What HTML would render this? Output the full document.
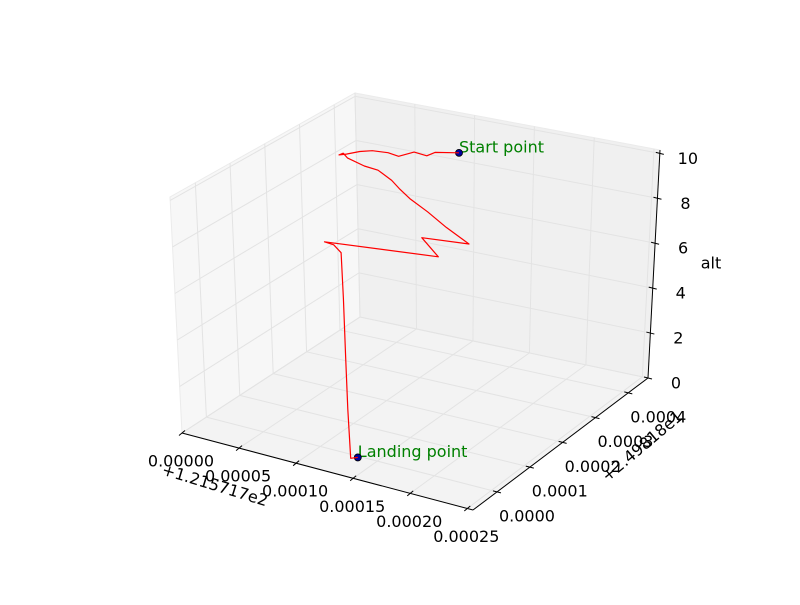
<!DOCTYPE html>
<html><head><meta charset="utf-8"><style>
body{margin:0;background:#fff}
svg text{font-family:"DejaVu Sans","Liberation Sans",sans-serif;font-size:16px}
</style></head><body>
<svg id="chart" width="800" height="600" viewBox="0 0 800 600" xmlns="http://www.w3.org/2000/svg">
<rect width="800" height="600" fill="#fff"/>
<g id="panes"></g>
<g id="grid"></g>
<g id="axes"></g>
<g id="series"></g>
</svg>
<script>
// flight data: longitude offset (micro-degrees from 121.5717), latitude offset (micro-degrees from 24.9818), altitude
const lonMicro = [127.4,111.9,110.4,98.4,93.3,82.7,70.8,63.8,58.2,54.6,55.3,60.6,72.4,80.6,90.2,96.1,103.9,117.1,128.6,143.8,107.1,132.6,44.6,51.2,59.3,74.3,95.8,111.8,130.4,134.1];
const latMicro = [320.7,304.9,286.3,291.0,263.9,270.0,265.8,253.7,234.2,225.6,235.3,229.0,236.9,248.0,254.2,255.2,259.1,265.6,280.6,295.0,282.8,243.6,212.1,216.4,210.0,163.4,94.2,43.8,-12.8,-4.2];
const altValues = [10,10,10,10,10,10,10,10,10,10,10,9.9,9.6,9.4,9.0,8.7,8.3,7.8,7.1,6.4,6.4,6.2,6.2,6.1,5.9,4.5,2.8,1.3,0,0];
const xTicks = [0,0.00005,0.0001,0.00015,0.0002,0.00025];
const xTickLabels = ["0.00000","0.00005","0.00010","0.00015","0.00020","0.00025"];
const yTicks = [0,0.0001,0.0002,0.0003,0.0004];
const yTickLabels = ["0.0000","0.0001","0.0002","0.0003","0.0004"];
const zTicks = [0,2,4,6,8,10];
const zTickLabels = ["0","2","4","6","8","10"];

const XMIN=0, XMAX=0.000255, YMIN=-0.000073, YMAX=0.00046, ZMIN=0, ZMAX=10.15;
const A=[182,433],B=[473,510],C=[648,378],D=[360,317];
const VA=[-12,-236],VB=[2,-250],VC=[12,-228],VD=[-5,-224];
const NS="http://www.w3.org/2000/svg";
function bl(P,Q,R,S,u,v,i){return P[i]*(1-u)*(1-v)+Q[i]*u*(1-v)+R[i]*u*v+S[i]*(1-u)*v;}
function proj(x,y,z){
  const u=(x-XMIN)/(XMAX-XMIN), v=(y-YMIN)/(YMAX-YMIN), w=(z-ZMIN)/(ZMAX-ZMIN);
  return [bl(A,B,C,D,u,v,0)+w*bl(VA,VB,VC,VD,u,v,0), bl(A,B,C,D,u,v,1)+w*bl(VA,VB,VC,VD,u,v,1)];
}
function mk(tag,attrs,parent){const e=document.createElementNS(NS,tag);for(const k in attrs)e.setAttribute(k,attrs[k]);parent.appendChild(e);return e;}
function pts(a){return a.map(p=>p[0].toFixed(1)+","+p[1].toFixed(1)).join(" ");}
const panes=document.getElementById('panes'),grid=document.getElementById('grid'),axes=document.getElementById('axes'),series=document.getElementById('series');

let e;
e=mk('polygon',{points:pts([proj(XMIN,YMIN,0),proj(XMAX,YMIN,0),proj(XMAX,YMAX,0),proj(XMIN,YMAX,0)]),fill:'#f3f3f3',stroke:'#ebebeb'},panes);


e=mk('polygon',{points:pts([proj(XMIN,YMIN,0),proj(XMIN,YMAX,0),proj(XMIN,YMAX,ZMAX),proj(XMIN,YMIN,ZMAX)]),fill:'#f7f7f7',stroke:'#ebebeb'},panes);


e=mk('polygon',{points:pts([proj(XMIN,YMAX,0),proj(XMAX,YMAX,0),proj(XMAX,YMAX,ZMAX),proj(XMIN,YMAX,ZMAX)]),fill:'#f0f0f0',stroke:'#ebebeb'},panes);



function gl(p,q){const l=mk('line',{x1:p[0],y1:p[1],x2:q[0],y2:q[1],stroke:'#e3e3e3','stroke-width':1},grid);return l;}
xTicks.forEach(t=>{
  e=gl(proj(t,YMIN,0),proj(t,YMAX,0));
  
  
  e=gl(proj(t,YMAX,0),proj(t,YMAX,ZMAX));
  
  
});
yTicks.forEach(t=>{
  e=gl(proj(XMIN,t,0),proj(XMAX,t,0));
  
  
  e=gl(proj(XMIN,t,0),proj(XMIN,t,ZMAX));
  
  
});
zTicks.forEach(t=>{
  e=gl(proj(XMIN,YMIN,t),proj(XMIN,YMAX,t));
  
  
  e=gl(proj(XMIN,YMAX,t),proj(XMAX,YMAX,t));
  
  
});

function al(p,q,name){const l=mk('line',{x1:p[0],y1:p[1],x2:q[0],y2:q[1],stroke:'#000','stroke-width':1},axes);}
al(proj(XMIN,YMIN,0),proj(XMAX,YMIN,0),'x-axis-line');
al(proj(XMAX,YMIN,0),proj(XMAX,YMAX,0),'y-axis-line');
al(proj(XMAX,YMAX,0),proj(XMAX,YMAX,ZMAX),'z-axis-line');
function tick(p,dx,dy){const l=mk('line',{x1:p[0]-dx,y1:p[1]-dy,x2:p[0]+dx,y2:p[1]+dy,stroke:'#000','stroke-width':1},axes);return l;}
function txt(x,y,s,anchor,fill){const t=mk('text',{x:x,y:y,'text-anchor':anchor||'middle','dominant-baseline':'central',fill:fill||'#000'},axes);t.textContent=s;return t;}
xTicks.forEach((t,i)=>{
  const p=proj(t,YMIN,0);
  e=tick(p,-3,2.5);
  
  
  e=txt(p[0]-1,p[1]+28,xTickLabels[i]);
  
  
});
yTicks.forEach((t,i)=>{
  const p=proj(XMAX,t,0);
  e=tick(p,-4,-1);
  
  
  e=txt(p[0]+30,p[1]+24,yTickLabels[i]);
  
  
});
zTicks.forEach((t,i)=>{
  const p=proj(XMAX,YMAX,t);
  e=tick(p,-4,-1);
  
  
  e=txt(p[0]+28,p[1]+5,zTickLabels[i]);
  
  
});
e=txt(215,485,'+1.215717e2');
e.setAttribute('transform','rotate(17 215 485)');


e=txt(642,446,'+2.49818e1');
e.setAttribute('transform','rotate(-40 642 446)');


e=txt(711,263,'alt');



const path=lonMicro.map((lo,i)=>proj(lo*1e-6,latMicro[i]*1e-6,altValues[i]));
const n=path.length-1;
e=mk('circle',{cx:path[0][0],cy:path[0][1],r:3.5,fill:'#0000a0',stroke:'#000','stroke-width':0.8},series);


e=mk('circle',{cx:path[n][0],cy:path[n][1],r:3.5,fill:'#0000a0',stroke:'#000','stroke-width':0.8},series);


e=mk('polyline',{points:pts(path),fill:'none',stroke:'#ff0000','stroke-width':1.2,'stroke-linejoin':'round'},series);


e=txt(path[0][0],path[0][1]-6,'Start point','start','#008000');


e=txt(path[n][0],path[n][1]-6,'Landing point','start','#008000');


</script>
</body></html>
